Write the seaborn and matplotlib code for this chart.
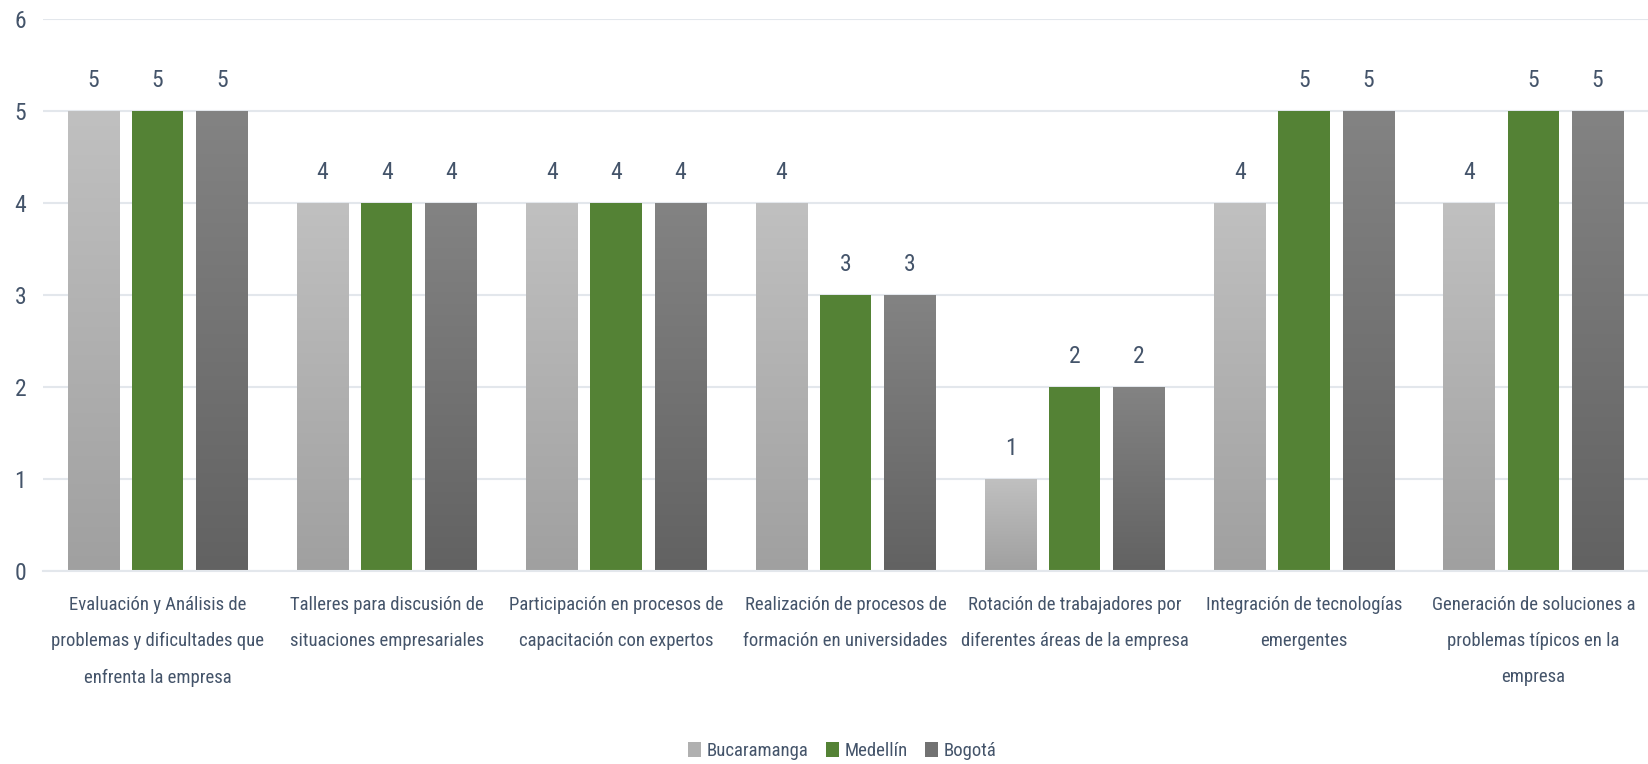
import numpy as np
import pandas as pd
import matplotlib
matplotlib.use("Agg")
import matplotlib.pyplot as plt
import seaborn as sns
from matplotlib.patches import Patch
from matplotlib import font_manager

categorias = [
    "Evaluación y Análisis de\nproblemas y dificultades que\nenfrenta la empresa",
    "Talleres para discusión de\nsituaciones empresariales",
    "Participación en procesos de\ncapacitación con expertos",
    "Realización de procesos de\nformación en universidades",
    "Rotación de trabajadores por\ndiferentes áreas de la empresa",
    "Integración de tecnologías\nemergentes",
    "Generación de soluciones a\nproblemas típicos en la\nempresa",
]
ciudades = ["Bucaramanga", "Medellín", "Bogotá"]
bucaramanga = [5, 4, 4, 4, 1, 4, 4]
medellin = [5, 4, 4, 3, 2, 5, 5]
bogota = [5, 4, 4, 3, 2, 5, 5]
y_ticks = [0, 1, 2, 3, 4, 5, 6]

# gradient colours (top, bottom) for each city; Medellín is flat
colores = {
    "Bucaramanga": ("#C0C0C0", "#A0A0A0"),
    "Medellín": ("#548235", "#548235"),
    "Bogotá": ("#838383", "#626262"),
}
texto = "#44546A"
grid_col = "#E3E7EC"

df = pd.DataFrame({
    "categoria": categorias * 3,
    "ciudad": np.repeat(ciudades, len(categorias)),
    "valor": bucaramanga + medellin + bogota,
})

sns.set_theme(style="white")
installed = {f.name for f in font_manager.fontManager.ttflist}
fam = [f for f in ["Liberation Sans Narrow", "Roboto Condensed", "Open Sans Condensed"] if f in installed]
plt.rcParams["font.family"] = fam + ["DejaVu Sans"]

fig = plt.figure(figsize=(16.48, 7.64), dpi=100)
ax = fig.add_axes([0.026, 0.2526, 0.974, 0.7225])

palette = {c: colores[c][0] for c in ciudades}
sns.barplot(data=df, x="categoria", y="valor", hue="ciudad", order=categorias,
            hue_order=ciudades, palette=palette, width=0.84, gap=0.2,
            ax=ax, legend=False, saturation=1, errorbar=None)

# vertical gradient fill inside each bar
for container, ciudad in zip(ax.containers, ciudades):
    top, bot = colores[ciudad]
    c1 = np.array(matplotlib.colors.to_rgb(top))
    c2 = np.array(matplotlib.colors.to_rgb(bot))
    t = np.linspace(0, 1, 256)[:, None]
    grad = (c1[None, :] * (1 - t) + c2[None, :] * t)[:, None, :]
    for bar in container:
        x0 = bar.get_x(); w = bar.get_width(); h = bar.get_height()
        bar.set_linewidth(0)
        if top != bot:
            im = ax.imshow(grad, extent=[x0, x0 + w, 0, h], aspect="auto",
                           origin="upper", zorder=bar.get_zorder() + 0.1)
            im.set_clip_path(bar)
    ax.bar_label(container, labels=[f"{int(v)}" for v in container.datavalues],
                 padding=14, fontsize=17, color=texto)

ax.set_xlim(-0.5, len(categorias) - 0.5)
ax.set_ylim(0, 6)
ax.set_yticks(y_ticks)
ax.set_yticklabels([str(v) for v in y_ticks])
ax.yaxis.grid(True, color=grid_col, linewidth=1.5)
ax.set_axisbelow(True)
for s in ["top", "right", "left"]:
    ax.spines[s].set_visible(False)
ax.spines["bottom"].set_color(grid_col)
ax.spines["bottom"].set_linewidth(1.5)
ax.tick_params(axis="y", length=0, pad=12, labelsize=17, labelcolor=texto)
ax.tick_params(axis="x", length=0, pad=18, labelsize=13.5, labelcolor=texto)
for lbl in ax.get_xticklabels():
    lbl.set_linespacing(2.3)
ax.set_xlabel("")
ax.set_ylabel("")

handles = [Patch(facecolor=matplotlib.colors.to_hex(
    (np.array(matplotlib.colors.to_rgb(colores[c][0])) + np.array(matplotlib.colors.to_rgb(colores[c][1]))) / 2),
    edgecolor="none", label=c) for c in ciudades]
fig.legend(handles=handles, loc="center", bbox_to_anchor=(0.511, 0.017), ncol=3,
           frameon=False, fontsize=13.5, labelcolor=texto, handlelength=0.7,
           handleheight=0.9, handletextpad=0.3, columnspacing=0.9)

fig.savefig("out.png", dpi=100)
